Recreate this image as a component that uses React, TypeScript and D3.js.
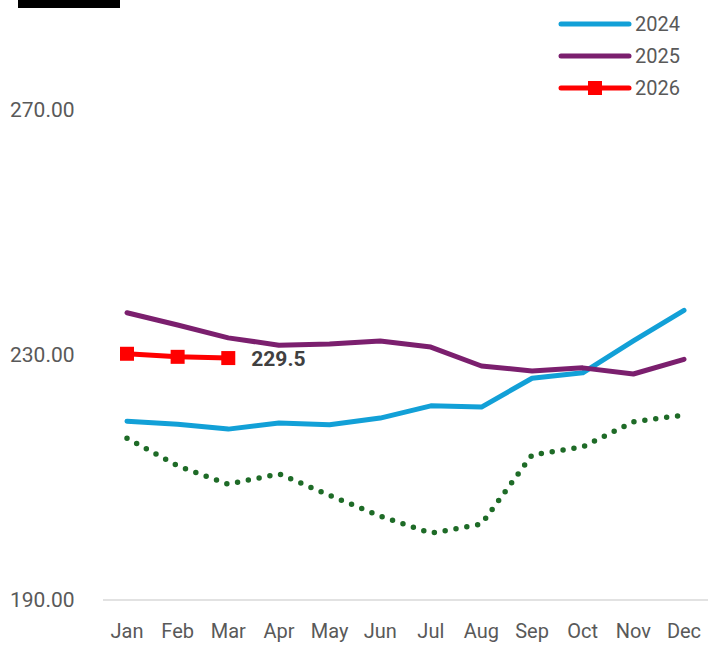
import React, { useEffect, useRef } from 'react';
import * as d3 from 'd3';

const months = ['Jan', 'Feb', 'Mar', 'Apr', 'May', 'Jun', 'Jul', 'Aug', 'Sep', 'Oct', 'Nov', 'Dec'];
const yTicks = [190, 230, 270];

const values2023 = [216.4, 211.9, 208.9, 210.6, 207.1, 203.7, 200.9, 202.4, 213.7, 215.0, 219.1, 220.2];
const values2024 = [219.2, 218.7, 217.9, 218.9, 218.6, 219.7, 221.7, 221.5, 226.2, 227.1, 232.3, 237.3];
const values2025 = [236.9, 234.9, 232.8, 231.6, 231.8, 232.3, 231.3, 228.2, 227.4, 227.9, 226.9, 229.3];
const values2026 = [230.2, 229.7, 229.5];

const series = [
  { name: '2023', values: values2023, color: '#1e6b27', dotted: true, marker: false },
  { name: '2024', values: values2024, color: '#12a0d7', dotted: false, marker: false },
  { name: '2025', values: values2025, color: '#7b1f6e', dotted: false, marker: false },
  { name: '2026', values: values2026, color: '#ff0000', dotted: false, marker: true },
];

const W = 725;
const H = 648;
const font = "Roboto, 'Open Sans', sans-serif";

const App = () => {
  const svgRef = useRef<SVGSVGElement>(null);

  useEffect(() => {
    const svg = d3.select(svgRef.current);
    svg.selectAll('*').remove();

    const x = d3.scalePoint<string>().domain(months).range([127, 684]);
    const y = d3.scaleLinear().domain([190, 270]).range([600, 110]);

    // black title block (cut off at top)
    svg.append('rect').attr('x', 18).attr('y', -10).attr('width', 102).attr('height', 18).attr('fill', '#000');

    // baseline
    svg
      .append('line')
      .attr('x1', 103)
      .attr('x2', 708)
      .attr('y1', y(190))
      .attr('y2', y(190))
      .attr('stroke', '#d9d9d9')
      .attr('stroke-width', 1.5);

    svg
      .selectAll('.ytick')
      .data(yTicks)
      .enter()
      .append('text')
      .attr('x', 10)
      .attr('y', d => y(d) + 7)
      .attr('fill', '#595959')
      .attr('font-family', font)
      .attr('font-size', 21)
      .text(d => d.toFixed(2));

    svg
      .selectAll('.xtick')
      .data(months)
      .enter()
      .append('text')
      .attr('x', d => x(d)!)
      .attr('y', 638)
      .attr('text-anchor', 'middle')
      .attr('fill', '#595959')
      .attr('font-family', font)
      .attr('font-size', 20)
      .text(d => d);

    const line = d3
      .line<number>()
      .x((d, i) => x(months[i])!)
      .y(d => y(d));

    series.forEach(s => {
      const p = svg
        .append('path')
        .datum(s.values)
        .attr('d', line)
        .attr('fill', 'none')
        .attr('stroke', s.color)
        .attr('stroke-width', 5)
        .attr('stroke-linecap', 'round')
        .attr('stroke-linejoin', 'round');
      if (s.dotted) p.attr('stroke-width', 5.5).attr('stroke-dasharray', '0 11');
      if (s.marker) {
        svg
          .selectAll('.mk' + s.name)
          .data(s.values)
          .enter()
          .append('rect')
          .attr('x', (d, i) => x(months[i])! - 7)
          .attr('y', d => y(d) - 7)
          .attr('width', 14)
          .attr('height', 14)
          .attr('fill', s.color);
      }
    });

    // last value label
    const last = values2026.length - 1;
    svg
      .append('text')
      .attr('x', x(months[last])! + 23)
      .attr('y', y(values2026[last]) + 8)
      .attr('fill', '#404040')
      .attr('font-family', font)
      .attr('font-weight', 'bold')
      .attr('font-size', 21)
      .text(values2026[last].toFixed(1));

    // legend
    const lg = svg.append('g');
    series.forEach((s, i) => {
      const ly = -8 + i * 32;
      lg.append('line')
        .attr('x1', 561)
        .attr('x2', 629)
        .attr('y1', ly)
        .attr('y2', ly)
        .attr('stroke', s.color)
        .attr('stroke-width', 5)
        .attr('stroke-linecap', 'round')
        .attr('stroke-dasharray', s.dotted ? '0 11' : null);
      if (s.marker) {
        lg.append('rect').attr('x', 588).attr('y', ly - 7).attr('width', 14).attr('height', 14).attr('fill', s.color);
      }
      lg.append('text')
        .attr('x', 635)
        .attr('y', ly + 7)
        .attr('fill', '#595959')
        .attr('font-family', font)
        .attr('font-size', 20)
        .text(s.name);
    });
  }, []);

  return (
    <svg
      ref={svgRef}
      width={W}
      height={H}
      style={{ position: 'absolute', left: 0, top: 0, background: '#fff' }}
    />
  );
};

export default App;
